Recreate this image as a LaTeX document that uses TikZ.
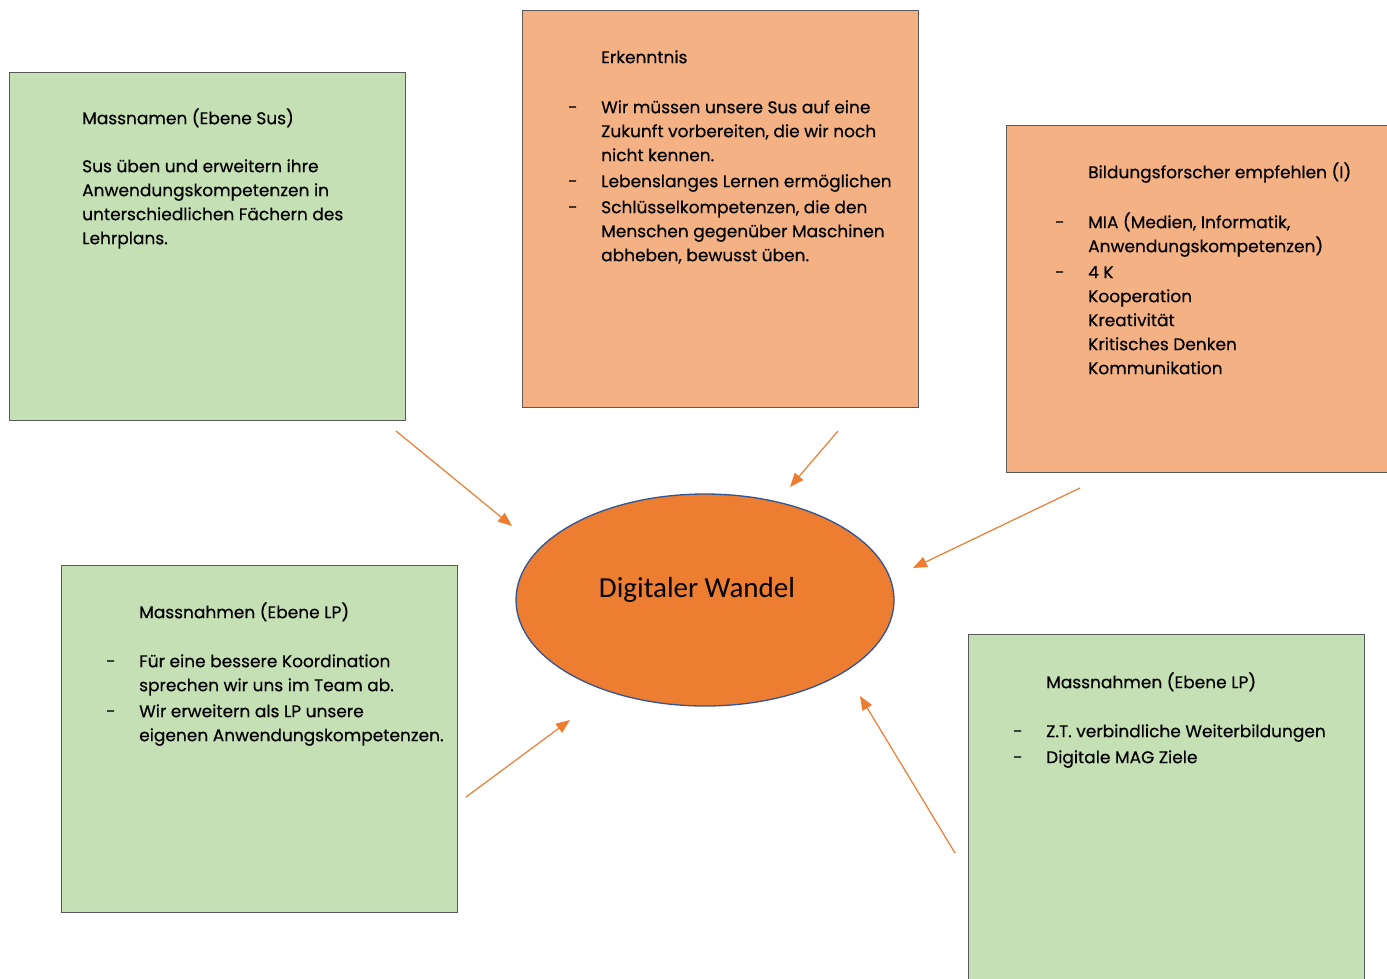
\documentclass[tikz,border=0pt]{standalone}
\usepackage{fontspec}
\setmainfont{Poppins}[FakeBold=0.4]
\newfontfamily\calfont{Carlito}
\usetikzlibrary{arrows.meta,shapes.geometric}
\definecolor{boxgreen}{HTML}{C5E0B4}
\definecolor{boxorange}{HTML}{F4B183}
\definecolor{accorange}{HTML}{ED7D31}
\definecolor{ellborder}{HTML}{2F5597}
\definecolor{boxborder}{HTML}{595959}
\newcommand\itemdash{\makebox[33pt][l]{-}}
\newcommand\itemind{\hspace*{33pt}}
\begin{document}
\begin{tikzpicture}[x=1pt,y=-1pt,
 card/.style={draw=boxborder, line width=1pt, anchor=north west, inner sep=0pt},
 greencard/.style={card, fill=boxgreen},
 orangecard/.style={card, fill=boxorange},
 cardtext/.style={anchor=north west, inner sep=0pt, align=left, font=\fontsize{17}{24}\selectfont},
 link/.style={draw=accorange, line width=1.2pt, -{Triangle[length=14pt,width=11pt]}}]
\useasboundingbox (0,0) rectangle (1387,978);
\clip (0,0) rectangle (1387,978);
\fill[white] (0,0) rectangle (1387,978);

% boxes
\node[greencard, minimum width=396pt, minimum height=348pt] (b1) at (9,72) {};
\node[orangecard, minimum width=396pt, minimum height=397pt] (b2) at (522,10) {};
\node[orangecard, minimum width=400pt, minimum height=347pt] (b3) at (1006,125) {};
\node[greencard, minimum width=396pt, minimum height=347pt] (b4) at (61,565) {};
\node[greencard, minimum width=396pt, minimum height=360pt] (b5) at (968,634) {};

% texts
\node[cardtext] (t1) at (82,107.2) {\strut Massnamen (Ebene Sus)\\[24pt]
Sus üben und erweitern ihre\\
Anwendungskompetenzen in\\
unterschiedlichen Fächern des\\
Lehrplans.};

\node[cardtext] (t2) at (568,46.2) {\strut\itemind Erkenntnis\\[26pt]
\itemdash Wir müssen unsere Sus auf eine\\
\itemind Zukunft vorbereiten, die wir noch\\
\itemind nicht kennen.\\[2pt]
\itemdash Lebenslanges Lernen ermöglichen\\[2pt]
\itemdash Schlüsselkompetenzen, die den\\
\itemind Menschen gegenüber Maschinen\\
\itemind abheben, bewusst üben.};

\node[cardtext] (t3) at (1055,161.2) {\strut\itemind Bildungsforscher empfehlen (I)\\[26pt]
\itemdash MIA (Medien, Informatik,\\
\itemind Anwendungskompetenzen)\\[2pt]
\itemdash 4 K\\
\itemind Kooperation\\
\itemind Kreativität\\
\itemind Kritisches Denken\\
\itemind Kommunikation};

\node[cardtext] (t4) at (106,601.2) {\strut\itemind Massnahmen (Ebene LP)\\[25pt]
\itemdash Für eine bessere Koordination\\
\itemind sprechen wir uns im Team ab.\\[2pt]
\itemdash Wir erweitern als LP unsere\\
\itemind eigenen Anwendungskompetenzen.};

\node[cardtext] (t5) at (1013,671.2) {\strut\itemind Massnahmen (Ebene LP)\\[25pt]
\itemdash Z.T. verbindliche Weiterbildungen\\[2pt]
\itemdash Digitale MAG Ziele};

% centre
\node[ellipse, draw=ellborder, fill=accorange, line width=1.3pt, minimum width=378pt, minimum height=212pt, inner sep=0pt] (dw) at (705,600) {};
\node[anchor=base, inner sep=0pt, font=\calfont\fontsize{29}{34}\selectfont] (dwlabel) at (697,597) {Digitaler Wandel};

% arrows
\coordinate (s1) at (396,431); \coordinate (e1) at (512,526);
\coordinate (s2) at (838,431); \coordinate (e2) at (790,487);
\coordinate (s3) at (1080,488); \coordinate (e3) at (913,568);
\coordinate (s4) at (466,797); \coordinate (e4) at (570,720);
\coordinate (s5) at (955,853); \coordinate (e5) at (860,696);
\draw[link] (s1) -- (e1);
\draw[link] (s2) -- (e2);
\draw[link] (s3) -- (e3);
\draw[link] (s4) -- (e4);
\draw[link] (s5) -- (e5);
\end{tikzpicture}
\end{document}
